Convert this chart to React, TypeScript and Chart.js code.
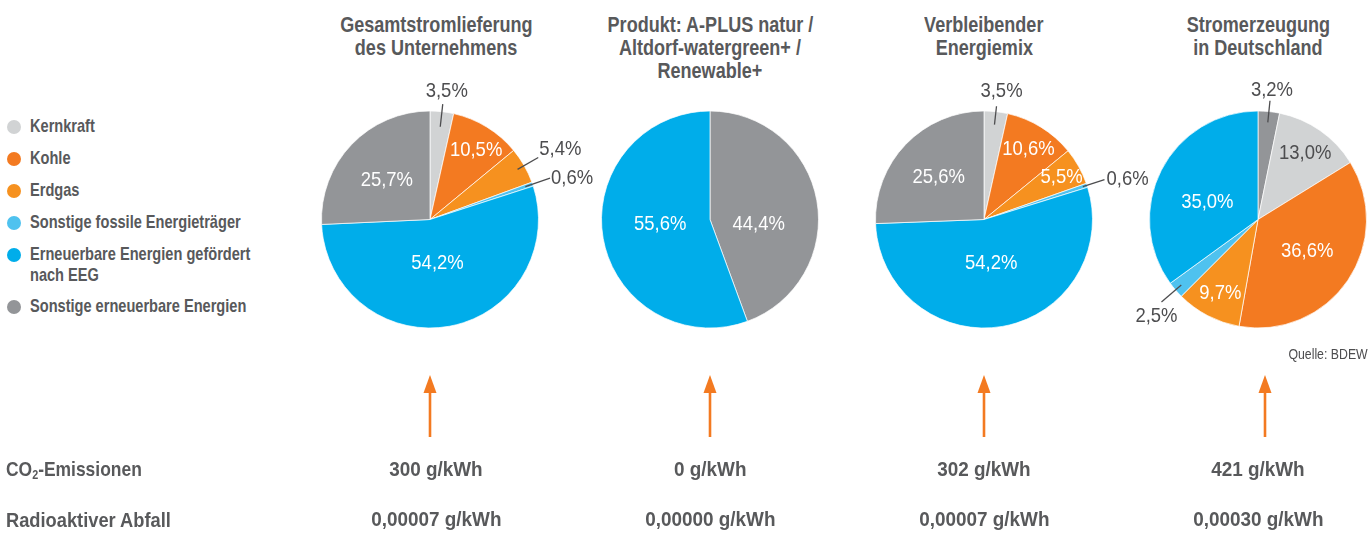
import React, { useEffect, useRef } from 'react';
import { Chart, registerables } from 'chart.js';

Chart.register(...registerables);

const FONT = '"Liberation Sans", Arial, sans-serif';
const NARROW = 0.82;
const DARK = '#4d4d4f';
const TITLE = '#58595b';

// ---------- data ----------
const categories = [
  'Kernkraft',
  'Kohle',
  'Erdgas',
  'Sonstige fossile Energieträger',
  'Erneuerbare Energien gefördert nach EEG',
  'Sonstige erneuerbare Energien',
];
const categoryColors = ['#d1d3d4', '#f37a21', '#f6911f', '#4fc2ef', '#00adea', '#939598'];

const chartTitles = [
  ['Gesamtstromlieferung', 'des Unternehmens'],
  ['Produkt: A-PLUS natur /', 'Altdorf-watergreen+ /', 'Renewable+'],
  ['Verbleibender', 'Energiemix'],
  ['Stromerzeugung', 'in Deutschland'],
];

// slice values (percent), clockwise from 12 o'clock
const mixGesamt = [3.5, 10.5, 5.4, 0.6, 54.2, 25.7];
const mixProdukt = [44.4, 55.6];
const mixVerbleibend = [3.5, 10.6, 5.5, 0.6, 54.2, 25.6];
const mixDeutschland = [3.2, 13.0, 36.6, 9.7, 2.5, 35.0];

// category index of each slice
const catsGesamt = [0, 1, 2, 3, 4, 5];
const catsProdukt = [5, 4];
const catsVerbleibend = [0, 1, 2, 3, 4, 5];
const catsDeutschland = [5, 0, 1, 2, 3, 4];

const co2Label = ['CO', '2', '-Emissionen'];
const wasteLabel = 'Radioaktiver Abfall';
const co2Values = ['300 g/kWh', '0 g/kWh', '302 g/kWh', '421 g/kWh'];
const wasteValues = ['0,00007 g/kWh', '0,00000 g/kWh', '0,00007 g/kWh', '0,00030 g/kWh'];
const sourceNote = 'Quelle: BDEW';

// ---------- label placement (style) ----------
type Spec =
  | { kind: 'in'; f: number; rot?: number; color?: string }
  | { kind: 'out'; from: number; to: number; align: CanvasTextAlign; dx: number; dy: number };

const placeGesamt: Spec[] = [
  { kind: 'out', from: 0.86, to: 1.07, align: 'center', dx: 4, dy: -15 },
  { kind: 'in', f: 0.78, rot: 1.5 },
  { kind: 'out', from: 0.93, to: 1.15, align: 'left', dx: 1, dy: -10 },
  { kind: 'out', from: 0.93, to: 1.17, align: 'left', dx: 1, dy: -2 },
  { kind: 'in', f: 0.39 },
  { kind: 'in', f: 0.55 },
];
const placeProdukt: Spec[] = [
  { kind: 'in', f: 0.45, rot: 13 },
  { kind: 'in', f: 0.46, rot: 7 },
];
const placeVerbleibend: Spec[] = [
  { kind: 'out', from: 0.88, to: 1.05, align: 'center', dx: 5, dy: -17 },
  { kind: 'in', f: 0.78 },
  { kind: 'in', f: 0.82 },
  { kind: 'out', from: 0.96, to: 1.17, align: 'left', dx: 2, dy: -2 },
  { kind: 'in', f: 0.39 },
  { kind: 'in', f: 0.58 },
];
const placeDeutschland: Spec[] = [
  { kind: 'out', from: 0.9, to: 1.1, align: 'center', dx: 2, dy: -12 },
  { kind: 'in', f: 0.76, color: DARK },
  { kind: 'in', f: 0.53, rot: -3 },
  { kind: 'in', f: 0.75 },
  { kind: 'out', from: 0.93, to: 1.17, align: 'center', dx: -5, dy: 13 },
  { kind: 'in', f: 0.5, rot: -6 },
];

const pies = [
  { values: mixGesamt, cats: catsGesamt, place: placeGesamt },
  { values: mixProdukt, cats: catsProdukt, place: placeProdukt },
  { values: mixVerbleibend, cats: catsVerbleibend, place: placeVerbleibend },
  { values: mixDeutschland, cats: catsDeutschland, place: placeDeutschland },
];

const pieCenters = [430, 710, 984, 1258];
const textCenters = [436, 710, 984, 1258];
const arrowX = [430, 710, 984, 1265];
const PIE_CY = 219.5;
const RADIUS = 108.5;
const CW = 360;
const CH = 311;

const LABEL_SIZE = 21;
const LABEL_SCALE = 0.88;

function makeLabelPlugin(specs: Spec[]) {
  return {
    id: 'pctLabels',
    afterDatasetsDraw(chart: any) {
      const ctx: CanvasRenderingContext2D = chart.ctx;
      const meta = chart.getDatasetMeta(0);
      const values = chart.data.datasets[0].data as number[];
      const capHalf = (LABEL_SIZE * 0.716) / 2;
      const drawText = (t: string, x: number, y: number, align: CanvasTextAlign, color: string) => {
        ctx.save();
        ctx.translate(x, y);
        ctx.scale(LABEL_SCALE, 1);
        ctx.font = `${LABEL_SIZE}px ${FONT}`;
        ctx.textBaseline = 'alphabetic';
        ctx.textAlign = align;
        ctx.fillStyle = color;
        ctx.fillText(t, 0, 0);
        ctx.restore();
      };
      meta.data.forEach((arc: any, i: number) => {
        const p = arc.getProps(['x', 'y', 'startAngle', 'endAngle', 'outerRadius'], true);
        const mid = (p.startAngle + p.endAngle) / 2;
        const text = values[i].toFixed(1).replace('.', ',') + '%';
        const spec = specs[i];
        if (!spec) return;
        if (spec.kind === 'in') {
          const a = mid + ((spec.rot || 0) * Math.PI) / 180;
          const r = p.outerRadius * spec.f;
          drawText(text, p.x + Math.cos(a) * r, p.y + Math.sin(a) * r + capHalf, 'center', spec.color || '#ffffff');
        } else {
          const c = Math.cos(mid);
          const s = Math.sin(mid);
          const r1 = p.outerRadius * spec.from;
          const r2 = p.outerRadius * spec.to;
          const x2 = p.x + c * r2;
          const y2 = p.y + s * r2;
          ctx.save();
          ctx.strokeStyle = DARK;
          ctx.lineWidth = 1.3;
          ctx.beginPath();
          ctx.moveTo(p.x + c * r1, p.y + s * r1);
          ctx.lineTo(x2, y2);
          ctx.stroke();
          ctx.restore();
          drawText(text, x2 + spec.dx, y2 + spec.dy + capHalf, spec.align, DARK);
        }
      });
    },
  };
}

function PieChart({ index }: { index: number }) {
  const ref = useRef<HTMLCanvasElement | null>(null);
  useEffect(() => {
    const cfg = pies[index];
    const chart = new Chart(ref.current as HTMLCanvasElement, {
      type: 'pie',
      data: {
        labels: cfg.cats.map((k) => categories[k]),
        datasets: [
          {
            data: cfg.values,
            backgroundColor: cfg.cats.map((k) => categoryColors[k]),
            borderColor: '#ffffff',
            borderWidth: 0.7,
          },
        ],
      },
      options: {
        responsive: false,
        animation: false,
        radius: RADIUS,
        layout: { padding: 0 },
        plugins: {
          legend: { display: false },
          tooltip: { enabled: false },
          title: { display: false },
        },
        events: [],
      } as any,
      plugins: [makeLabelPlugin(cfg.place) as any],
    });
    return () => chart.destroy();
  }, [index]);
  return (
    <canvas
      ref={ref}
      width={CW}
      height={CH}
      style={{
        position: 'absolute',
        left: pieCenters[index] - CW / 2,
        top: PIE_CY - CH / 2,
        width: CW,
        height: CH,
      }}
    />
  );
}

function Txt({
  x,
  base,
  size,
  bold = true,
  align = 'left',
  color = TITLE,
  sx = NARROW,
  children,
}: {
  x: number;
  base: number;
  size: number;
  bold?: boolean;
  align?: 'left' | 'center' | 'right';
  color?: string;
  sx?: number;
  children: React.ReactNode;
}) {
  const lh = size * 1.2;
  const top = base - (lh - 1.117 * size) / 2 - 0.905 * size;
  const W = 600;
  const left = align === 'left' ? x : align === 'center' ? x - W / 2 : x - W;
  return (
    <div
      style={{
        position: 'absolute',
        top,
        left,
        width: W,
        textAlign: align,
        whiteSpace: 'nowrap',
        fontFamily: FONT,
        fontWeight: bold ? 700 : 400,
        fontSize: size,
        lineHeight: `${lh}px`,
        color,
      }}
    >
      <span
        style={{
          display: 'inline-block',
          transform: `scaleX(${sx})`,
          transformOrigin: align,
        }}
      >
        {children}
      </span>
    </div>
  );
}

const legendBaselines = [133, 165, 197, 229, 261, 313];
const legendDotY = [127, 159, 191, 223, 255, 307];

export default function App() {
  return (
    <div
      style={{
        position: 'absolute',
        left: 0,
        top: 0,
        width: 1370,
        height: 541,
        background: '#ffffff',
        overflow: 'hidden',
      }}
    >
      {/* legend */}
      {categories.map((name, i) => {
        const size = 17.8;
        const lh = 21;
        const top = legendBaselines[i] - (lh - 1.117 * size) / 2 - 0.905 * size;
        return (
          <React.Fragment key={name}>
            <div
              style={{
                position: 'absolute',
                left: 7,
                top: legendDotY[i] - 7,
                width: 14,
                height: 14,
                borderRadius: 7,
                background: categoryColors[i],
              }}
            />
            <div
              style={{
                position: 'absolute',
                left: 30,
                top,
                width: 278,
                fontFamily: FONT,
                fontWeight: 700,
                fontSize: size,
                lineHeight: `${lh}px`,
                color: TITLE,
                transform: `scaleX(${NARROW})`,
                transformOrigin: 'left top',
              }}
            >
              {name}
            </div>
          </React.Fragment>
        );
      })}

      {/* titles */}
      {chartTitles.map((lines, i) =>
        lines.map((line, j) => (
          <Txt key={`t${i}-${j}`} x={textCenters[i]} base={32.5 + j * 23.3} size={22} align="center">
            {line}
          </Txt>
        ))
      )}

      {/* pies */}
      {pies.map((_, i) => (
        <PieChart key={`p${i}`} index={i} />
      ))}

      <Txt x={1368} base={359} size={15} bold={false} align="right" color={DARK}>
        {sourceNote}
      </Txt>

      {/* arrows */}
      <svg width={1370} height={541} style={{ position: 'absolute', left: 0, top: 0 }}>
        {arrowX.map((x) => (
          <g key={`a${x}`}>
            <line x1={x} y1={437} x2={x} y2={390} stroke="#f37a21" strokeWidth={2.6} />
            <polygon points={`${x - 6.5},393 ${x},375 ${x + 6.5},393`} fill="#f37a21" />
          </g>
        ))}
      </svg>

      {/* rows */}
      <Txt x={6} base={476} size={21} sx={0.83}>
        {co2Label[0]}
        <span style={{ fontSize: 13, verticalAlign: -3 }}>{co2Label[1]}</span>
        {co2Label[2]}
      </Txt>
      <Txt x={6} base={527} size={21} sx={0.87}>
        {wasteLabel}
      </Txt>
      {co2Values.map((v, i) => (
        <Txt key={`c${i}`} x={textCenters[i]} base={476} size={21} sx={0.9} align="center">
          {v}
        </Txt>
      ))}
      {wasteValues.map((v, i) => (
        <Txt key={`w${i}`} x={textCenters[i]} base={526} size={21} sx={0.9} align="center">
          {v}
        </Txt>
      ))}
    </div>
  );
}
